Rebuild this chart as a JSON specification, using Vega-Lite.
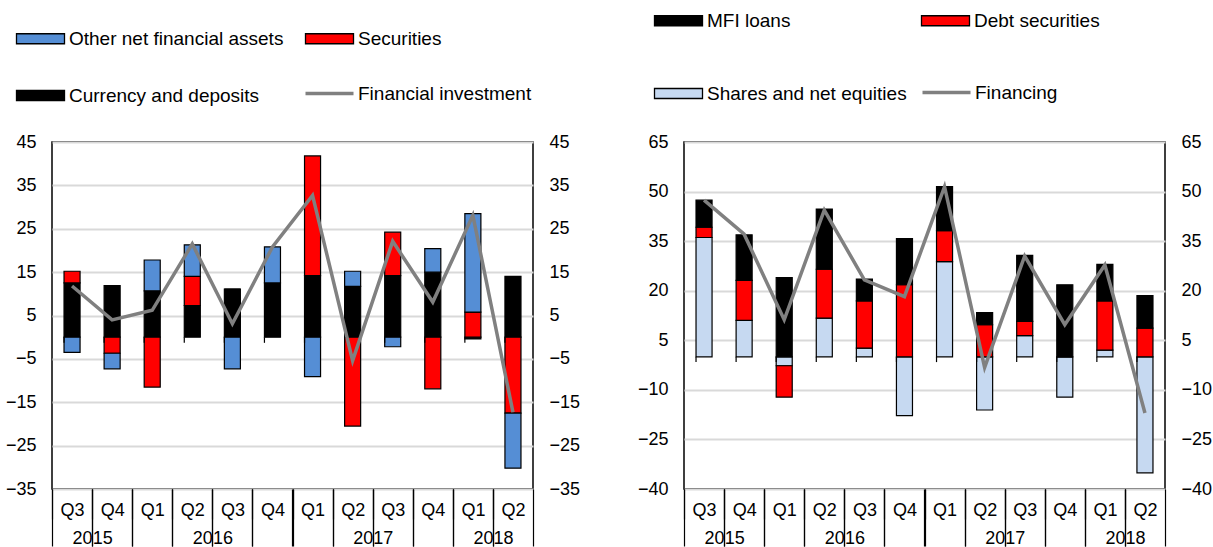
{
  "$schema": "https://vega.github.io/schema/vega-lite/v6.json",
  "padding": {"left": 4, "top": 10, "right": 0, "bottom": 0},
  "datasets": {
    "hhBars": [
      {"period": "2015 Q3", "series": "Currency and deposits", "ord": 1, "value": 12.5},
      {"period": "2015 Q3", "series": "Securities", "ord": 2, "value": 2.7},
      {"period": "2015 Q3", "series": "Other net financial assets", "ord": 3, "value": -3.5},
      {"period": "2015 Q4", "series": "Currency and deposits", "ord": 1, "value": 11.9},
      {"period": "2015 Q4", "series": "Securities", "ord": 2, "value": -3.7},
      {"period": "2015 Q4", "series": "Other net financial assets", "ord": 3, "value": -3.6},
      {"period": "2016 Q1", "series": "Currency and deposits", "ord": 1, "value": 10.7},
      {"period": "2016 Q1", "series": "Securities", "ord": 2, "value": -11.5},
      {"period": "2016 Q1", "series": "Other net financial assets", "ord": 3, "value": 7.1},
      {"period": "2016 Q2", "series": "Currency and deposits", "ord": 1, "value": 7.3},
      {"period": "2016 Q2", "series": "Securities", "ord": 2, "value": 6.7},
      {"period": "2016 Q2", "series": "Other net financial assets", "ord": 3, "value": 7.3},
      {"period": "2016 Q3", "series": "Currency and deposits", "ord": 1, "value": 11.1},
      {"period": "2016 Q3", "series": "Securities", "ord": 2, "value": 0},
      {"period": "2016 Q3", "series": "Other net financial assets", "ord": 3, "value": -7.3},
      {"period": "2016 Q4", "series": "Currency and deposits", "ord": 1, "value": 12.5},
      {"period": "2016 Q4", "series": "Securities", "ord": 2, "value": 0},
      {"period": "2016 Q4", "series": "Other net financial assets", "ord": 3, "value": 8.3},
      {"period": "2017 Q1", "series": "Currency and deposits", "ord": 1, "value": 14.2},
      {"period": "2017 Q1", "series": "Securities", "ord": 2, "value": 27.6},
      {"period": "2017 Q1", "series": "Other net financial assets", "ord": 3, "value": -9.1},
      {"period": "2017 Q2", "series": "Currency and deposits", "ord": 1, "value": 11.7},
      {"period": "2017 Q2", "series": "Securities", "ord": 2, "value": -20.5},
      {"period": "2017 Q2", "series": "Other net financial assets", "ord": 3, "value": 3.5},
      {"period": "2017 Q3", "series": "Currency and deposits", "ord": 1, "value": 14.2},
      {"period": "2017 Q3", "series": "Securities", "ord": 2, "value": 10.0},
      {"period": "2017 Q3", "series": "Other net financial assets", "ord": 3, "value": -2.2},
      {"period": "2017 Q4", "series": "Currency and deposits", "ord": 1, "value": 15.0},
      {"period": "2017 Q4", "series": "Securities", "ord": 2, "value": -11.9},
      {"period": "2017 Q4", "series": "Other net financial assets", "ord": 3, "value": 5.4},
      {"period": "2018 Q1", "series": "Currency and deposits", "ord": 1, "value": -0.4},
      {"period": "2018 Q1", "series": "Securities", "ord": 2, "value": 5.8},
      {"period": "2018 Q1", "series": "Other net financial assets", "ord": 3, "value": 22.7},
      {"period": "2018 Q2", "series": "Currency and deposits", "ord": 1, "value": 14.0},
      {"period": "2018 Q2", "series": "Securities", "ord": 2, "value": -17.5},
      {"period": "2018 Q2", "series": "Other net financial assets", "ord": 3, "value": -12.7}
    ],
    "hhLine": [
      {"period": "2015 Q3", "value": 11.8},
      {"period": "2015 Q4", "value": 4.0},
      {"period": "2016 Q1", "value": 6.2},
      {"period": "2016 Q2", "value": 21.5},
      {"period": "2016 Q3", "value": 3.1},
      {"period": "2016 Q4", "value": 20.8},
      {"period": "2017 Q1", "value": 32.7},
      {"period": "2017 Q2", "value": -5.4},
      {"period": "2017 Q3", "value": 22.1},
      {"period": "2017 Q4", "value": 8.1},
      {"period": "2018 Q1", "value": 28.1},
      {"period": "2018 Q2", "value": -17.3}
    ],
    "nfcBars": [
      {"period": "2015 Q3", "series": "Shares and net equities", "ord": 1, "value": 36.1},
      {"period": "2015 Q3", "series": "Debt securities", "ord": 2, "value": 3.1},
      {"period": "2015 Q3", "series": "MFI loans", "ord": 3, "value": 8.2},
      {"period": "2015 Q4", "series": "Shares and net equities", "ord": 1, "value": 11.0},
      {"period": "2015 Q4", "series": "Debt securities", "ord": 2, "value": 12.1},
      {"period": "2015 Q4", "series": "MFI loans", "ord": 3, "value": 13.8},
      {"period": "2016 Q1", "series": "Shares and net equities", "ord": 1, "value": -2.7},
      {"period": "2016 Q1", "series": "Debt securities", "ord": 2, "value": -9.5},
      {"period": "2016 Q1", "series": "MFI loans", "ord": 3, "value": 24.0},
      {"period": "2016 Q2", "series": "Shares and net equities", "ord": 1, "value": 11.7},
      {"period": "2016 Q2", "series": "Debt securities", "ord": 2, "value": 14.8},
      {"period": "2016 Q2", "series": "MFI loans", "ord": 3, "value": 18.2},
      {"period": "2016 Q3", "series": "Shares and net equities", "ord": 1, "value": 2.6},
      {"period": "2016 Q3", "series": "Debt securities", "ord": 2, "value": 14.3},
      {"period": "2016 Q3", "series": "MFI loans", "ord": 3, "value": 6.6},
      {"period": "2016 Q4", "series": "Shares and net equities", "ord": 1, "value": -17.8},
      {"period": "2016 Q4", "series": "Debt securities", "ord": 2, "value": 21.8},
      {"period": "2016 Q4", "series": "MFI loans", "ord": 3, "value": 14.0},
      {"period": "2017 Q1", "series": "Shares and net equities", "ord": 1, "value": 28.8},
      {"period": "2017 Q1", "series": "Debt securities", "ord": 2, "value": 9.4},
      {"period": "2017 Q1", "series": "MFI loans", "ord": 3, "value": 13.3},
      {"period": "2017 Q2", "series": "Shares and net equities", "ord": 1, "value": -16.1},
      {"period": "2017 Q2", "series": "Debt securities", "ord": 2, "value": 9.7},
      {"period": "2017 Q2", "series": "MFI loans", "ord": 3, "value": 3.7},
      {"period": "2017 Q3", "series": "Shares and net equities", "ord": 1, "value": 6.4},
      {"period": "2017 Q3", "series": "Debt securities", "ord": 2, "value": 4.3},
      {"period": "2017 Q3", "series": "MFI loans", "ord": 3, "value": 20.0},
      {"period": "2017 Q4", "series": "Shares and net equities", "ord": 1, "value": -12.2},
      {"period": "2017 Q4", "series": "Debt securities", "ord": 2, "value": 0},
      {"period": "2017 Q4", "series": "MFI loans", "ord": 3, "value": 21.8},
      {"period": "2018 Q1", "series": "Shares and net equities", "ord": 1, "value": 2.0},
      {"period": "2018 Q1", "series": "Debt securities", "ord": 2, "value": 14.9},
      {"period": "2018 Q1", "series": "MFI loans", "ord": 3, "value": 11.1},
      {"period": "2018 Q2", "series": "Shares and net equities", "ord": 1, "value": -35.1},
      {"period": "2018 Q2", "series": "Debt securities", "ord": 2, "value": 8.7},
      {"period": "2018 Q2", "series": "MFI loans", "ord": 3, "value": 9.8}
    ],
    "nfcLine": [
      {"period": "2015 Q3", "value": 47.4},
      {"period": "2015 Q4", "value": 37.1},
      {"period": "2016 Q1", "value": 11.2},
      {"period": "2016 Q2", "value": 44.4},
      {"period": "2016 Q3", "value": 23.3},
      {"period": "2016 Q4", "value": 18.2},
      {"period": "2017 Q1", "value": 51.5},
      {"period": "2017 Q2", "value": -3.2},
      {"period": "2017 Q3", "value": 30.5},
      {"period": "2017 Q4", "value": 9.7},
      {"period": "2018 Q1", "value": 27.8},
      {"period": "2018 Q2", "value": -17.0}
    ]
  },
  "hconcat": [
    {
      "width": 481,
      "height": 347,
      "layer": [
        {
          "data": {"name": "hhBars"},
          "mark": {"type": "bar", "stroke": "black", "strokeWidth": 1.2},
          "encoding": {
            "x": {"field": "period", "type": "nominal", "title": null,
              "scale": {"paddingInner": 0.6, "paddingOuter": 0.3},
              "axis": {"orient": "bottom", "labelExpr": "slice(datum.value, 5)", "tickOffset": -20, "labelOffset": 20, "tickSize": 30, "tickColor": "black", "tickWidth": 1.2, "domain": false, "labelPadding": 0, "labelBaseline": "bottom", "labelAngle": 0, "grid": false}},
            "y": {"field": "value", "type": "quantitative", "title": null,
              "scale": {"domain": [-35, 45], "nice": false, "zero": false},
              "axis": {"orient": "left", "values": [-35, -25, -15, -5, 5, 15, 25, 35, 45], "grid": true, "gridColor": "#d9d9d9", "gridWidth": 2, "domain": false, "ticks": false, "labelPadding": 16}},
            "color": {"field": "series", "type": "nominal",
              "scale": {"domain": ["Other net financial assets", "Securities", "Currency and deposits"], "range": ["#558ED5", "#FF0000", "#000000"]},
              "legend": {"orient": "none", "legendX": -40, "legendY": -113, "columns": 2, "direction": "horizontal", "title": null, "columnPadding": 17, "rowPadding": 37, "labelLimit": 400,
                "symbolType": "M-4.8,-1H4.8V1H-4.8Z", "symbolSize": 100, "symbolOffset": 19, "labelOffset": 19,
                "symbolStrokeColor": "black", "symbolStrokeWidth": 1.3}},
            "order": {"field": "ord", "type": "quantitative"}
          }
        },
        {
          "data": {"name": "hhLine"},
          "mark": {"type": "line", "strokeWidth": 3.5},
          "encoding": {
            "x": {"field": "period", "type": "nominal", "title": null,
              "axis": {"orient": "bottom", "tickOffset": -20, "tickSize": 57, "tickColor": "black", "tickWidth": 1.2, "domain": false, "labelAngle": 0, "labelPadding": 1, "labelBaseline": "bottom", "grid": false,
                "labelExpr": "indexof(['2015 Q4','2016 Q3','2017 Q3','2018 Q2'], datum.value) >= 0 ? slice(datum.value, 0, 4) : ''",
                "encode": {"ticks": {"update": {"opacity": {"signal": "slice(datum.value, 5) === 'Q1' || datum.value === '2015 Q3' ? 1 : 0"}}}}}},
            "y": {"field": "value", "type": "quantitative", "title": null,
              "axis": {"orient": "right", "values": [-35, -25, -15, -5, 5, 15, 25, 35, 45], "grid": false, "domain": false, "ticks": false, "labelPadding": 16}},
            "stroke": {"datum": "Financial investment", "type": "nominal",
              "scale": {"domain": ["Financial investment"], "range": ["#808080"]},
              "legend": {"orient": "none", "legendX": 249, "legendY": -58, "title": null, "labelLimit": 400,
                "symbolType": "M-4.8,0H4.8", "symbolSize": 100, "symbolOffset": 19, "labelOffset": 19, "symbolStrokeWidth": 3.5}}
          }
        },
        {
          "data": {"name": "hhLine"},
          "mark": {"type": "point", "opacity": 0},
          "encoding": {
            "x": {"field": "period", "type": "nominal", "title": null,
              "axis": {"orient": "bottom", "tickOffset": 20, "tickSize": 57, "tickColor": "black", "tickWidth": 1.2, "domain": false, "labels": false, "grid": false,
                "encode": {"ticks": {"update": {"opacity": {"signal": "datum.value === '2018 Q2' ? 1 : 0"}}}}}},
            "y": {"field": "value", "type": "quantitative", "axis": null}
          }
        },
        {
          "mark": {"type": "rule", "color": "black", "strokeWidth": 1.8},
          "encoding": {"y": {"datum": 0, "type": "quantitative", "axis": null}}
        },
        {
          "data": {"name": "hhLine"},
          "mark": {"type": "rule", "color": "black", "strokeWidth": 1.2},
          "encoding": {
            "x": {"field": "period", "type": "nominal", "bandPosition": 0, "axis": null},
            "y": {"datum": 0, "type": "quantitative", "axis": null},
            "y2": {"datum": -1.3}
          }
        }
      ],
      "resolve": {"axis": {"x": "independent", "y": "independent"}}
    },
    {
      "width": 481,
      "height": 347,
      "layer": [
        {
          "data": {"name": "nfcBars"},
          "mark": {"type": "bar", "stroke": "black", "strokeWidth": 1.2},
          "encoding": {
            "x": {"field": "period", "type": "nominal", "title": null,
              "scale": {"paddingInner": 0.6, "paddingOuter": 0.3},
              "axis": {"orient": "bottom", "labelExpr": "slice(datum.value, 5)", "tickOffset": -20, "labelOffset": 20, "tickSize": 30, "tickColor": "black", "tickWidth": 1.2, "domain": false, "labelPadding": 0, "labelBaseline": "bottom", "labelAngle": 0, "grid": false}},
            "y": {"field": "value", "type": "quantitative", "title": null,
              "scale": {"domain": [-40, 65], "nice": false, "zero": false},
              "axis": {"orient": "left", "values": [-40, -25, -10, 5, 20, 35, 50, 65], "grid": true, "gridColor": "#d9d9d9", "gridWidth": 2, "domain": false, "ticks": false, "labelPadding": 16}},
            "color": {"field": "series", "type": "nominal",
              "scale": {"domain": ["MFI loans", "Debt securities", "Shares and net equities"], "range": ["#000000", "#FF0000", "#C6D9F1"]},
              "legend": {"orient": "none", "legendX": -34, "legendY": -131, "columns": 2, "direction": "horizontal", "title": null, "columnPadding": 10, "rowPadding": 53, "labelLimit": 400,
                "symbolType": "M-4.8,-1H4.8V1H-4.8Z", "symbolSize": 100, "symbolOffset": 19, "labelOffset": 19,
                "symbolStrokeColor": "black", "symbolStrokeWidth": 1.3}},
            "order": {"field": "ord", "type": "quantitative"}
          }
        },
        {
          "data": {"name": "nfcLine"},
          "mark": {"type": "line", "strokeWidth": 3.5},
          "encoding": {
            "x": {"field": "period", "type": "nominal", "title": null,
              "axis": {"orient": "bottom", "tickOffset": -20, "tickSize": 57, "tickColor": "black", "tickWidth": 1.2, "domain": false, "labelAngle": 0, "labelPadding": 1, "labelBaseline": "bottom", "grid": false,
                "labelExpr": "indexof(['2015 Q4','2016 Q3','2017 Q3','2018 Q2'], datum.value) >= 0 ? slice(datum.value, 0, 4) : ''",
                "encode": {"ticks": {"update": {"opacity": {"signal": "slice(datum.value, 5) === 'Q1' || datum.value === '2015 Q3' ? 1 : 0"}}}}}},
            "y": {"field": "value", "type": "quantitative", "title": null,
              "axis": {"orient": "right", "values": [-40, -25, -10, 5, 20, 35, 50, 65], "grid": false, "domain": false, "ticks": false, "labelPadding": 16}},
            "stroke": {"datum": "Financing", "type": "nominal",
              "scale": {"domain": ["Financing"], "range": ["#808080"]},
              "legend": {"orient": "none", "legendX": 234, "legendY": -59, "title": null, "labelLimit": 400,
                "symbolType": "M-4.8,0H4.8", "symbolSize": 100, "symbolOffset": 19, "labelOffset": 19, "symbolStrokeWidth": 3.5}}
          }
        },
        {
          "data": {"name": "nfcLine"},
          "mark": {"type": "point", "opacity": 0},
          "encoding": {
            "x": {"field": "period", "type": "nominal", "title": null,
              "axis": {"orient": "bottom", "tickOffset": 20, "tickSize": 57, "tickColor": "black", "tickWidth": 1.2, "domain": false, "labels": false, "grid": false,
                "encode": {"ticks": {"update": {"opacity": {"signal": "datum.value === '2018 Q2' ? 1 : 0"}}}}}},
            "y": {"field": "value", "type": "quantitative", "axis": null}
          }
        },
        {
          "mark": {"type": "rule", "color": "black", "strokeWidth": 1.8},
          "encoding": {"y": {"datum": 0, "type": "quantitative", "axis": null}}
        },
        {
          "data": {"name": "nfcLine"},
          "mark": {"type": "rule", "color": "black", "strokeWidth": 1.2},
          "encoding": {
            "x": {"field": "period", "type": "nominal", "bandPosition": 0, "axis": null},
            "y": {"datum": 0, "type": "quantitative", "axis": null},
            "y2": {"datum": -1.6}
          }
        }
      ],
      "resolve": {"axis": {"x": "independent", "y": "independent"}}
    }
  ],
  "spacing": 55,
  "resolve": {"scale": {"color": "independent", "stroke": "independent", "x": "independent", "y": "independent"}},
  "config": {
    "view": {"stroke": "black", "strokeWidth": 1.5},
    "font": "Liberation Sans",
    "axis": {"labelFont": "Liberation Sans", "labelFontSize": 18, "labelColor": "black"},
    "legend": {"labelFont": "Liberation Sans", "labelFontSize": 19, "labelColor": "black", "padding": 0}
  }
}
